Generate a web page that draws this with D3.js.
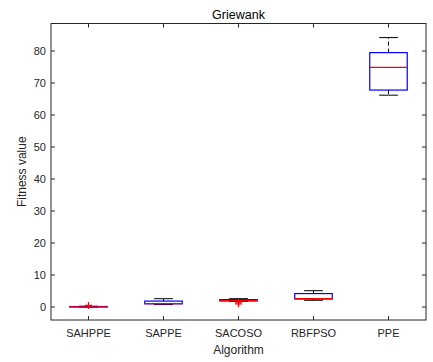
<!DOCTYPE html>
<html>
<head>
<meta charset="utf-8">
<script src="https://cdn.jsdelivr.net/npm/d3@7"></script>
<style>
  html, body { margin: 0; padding: 0; background: #fff; }
  svg { display: block; font-family: "Liberation Sans", Arial, Helvetica, sans-serif; }
</style>
</head>
<body>
<svg id="chart" width="433" height="362"></svg>
<script>
// Box plot statistics per algorithm
const algorithms = ["SAHPPE", "SAPPE", "SACOSO", "RBFPSO", "PPE"];
const lowerWhisker = [0.0, 0.75, 1.75, 2.1, 66.2];
const q1 = [0.03, 1.0, 1.9, 2.5, 67.8];
const median = [0.08, 1.05, 2.0, 2.6, 74.9];
const q3 = [0.15, 1.85, 2.3, 4.2, 79.5];
const upperWhisker = [0.25, 2.6, 2.6, 5.1, 84.2];
const outliers = [[0.5], [], [1.5, 1.0], [], []];
const yTicks = [0, 10, 20, 30, 40, 50, 60, 70, 80];

const svg = d3.select("#chart");
const plotLeft = 51, plotRight = 426, plotTop = 23.5, plotBottom = 320;
const axisColor = "#262626";

const x = d3.scaleLinear().domain([0.5, 5.5]).range([plotLeft, plotRight]);
const y = d3.scaleLinear().domain([-4.06, 88.6]).range([plotBottom, plotTop]);

const boxHalf = 0.25, capHalf = 0.125;

const data = algorithms.map((name, i) => ({
  name, i: i + 1,
  lo: lowerWhisker[i], q1: q1[i], med: median[i], q3: q3[i], hi: upperWhisker[i],
  out: outliers[i]
}));

const g = svg.append("g");

data.forEach(d => {
  // Whiskers (dashed) and caps
  g.append("line").attr("x1", x(d.i)).attr("x2", x(d.i))
    .attr("y1", y(d.q3)).attr("y2", y(d.hi))
    .attr("stroke", "#000").attr("stroke-dasharray", "4,3");
  g.append("line").attr("x1", x(d.i)).attr("x2", x(d.i))
    .attr("y1", y(d.q1)).attr("y2", y(d.lo))
    .attr("stroke", "#000").attr("stroke-dasharray", "4,3");
  g.append("line").attr("x1", x(d.i - capHalf)).attr("x2", x(d.i + capHalf))
    .attr("y1", y(d.hi)).attr("y2", y(d.hi)).attr("stroke", "#000");
  g.append("line").attr("x1", x(d.i - capHalf)).attr("x2", x(d.i + capHalf))
    .attr("y1", y(d.lo)).attr("y2", y(d.lo)).attr("stroke", "#000");
  // Box
  g.append("rect")
    .attr("x", x(d.i - boxHalf)).attr("width", x(d.i + boxHalf) - x(d.i - boxHalf))
    .attr("y", y(d.q3)).attr("height", Math.max(0.5, y(d.q1) - y(d.q3)))
    .attr("fill", "none").attr("stroke", "#0000ff").attr("stroke-width", 1.2);
  // Median
  g.append("line").attr("x1", x(d.i - boxHalf)).attr("x2", x(d.i + boxHalf))
    .attr("y1", y(d.med)).attr("y2", y(d.med)).attr("stroke", "#ff0000").attr("stroke-width", 1.2);
  // Outliers
  d.out.forEach(v => {
    const px = x(d.i), py = y(v), s = 3.5;
    g.append("path").attr("d", `M${px - s},${py}H${px + s}M${px},${py - s}V${py + s}`)
      .attr("stroke", "#ff0000").attr("stroke-width", 1.2);
  });
});

// Frame
svg.append("rect").attr("x", plotLeft).attr("y", plotTop)
  .attr("width", plotRight - plotLeft).attr("height", plotBottom - plotTop)
  .attr("fill", "none").attr("stroke", axisColor).attr("stroke-width", 1);

const tickLen = 4;
// Y ticks (inside, both sides) and labels
yTicks.forEach(t => {
  const py = y(t);
  svg.append("line").attr("x1", plotLeft).attr("x2", plotLeft + tickLen).attr("y1", py).attr("y2", py).attr("stroke", axisColor);
  svg.append("line").attr("x1", plotRight).attr("x2", plotRight - tickLen).attr("y1", py).attr("y2", py).attr("stroke", axisColor);
  svg.append("text").attr("x", plotLeft - 5).attr("y", py).attr("dy", "0.35em")
    .attr("text-anchor", "end").attr("font-size", 11).attr("fill", axisColor).text(t);
});

// X ticks (inside, top and bottom) and category labels
data.forEach(d => {
  const px = x(d.i);
  svg.append("line").attr("x1", px).attr("x2", px).attr("y1", plotBottom).attr("y2", plotBottom - tickLen).attr("stroke", axisColor);
  svg.append("line").attr("x1", px).attr("x2", px).attr("y1", plotTop).attr("y2", plotTop + tickLen).attr("stroke", axisColor);
  svg.append("text").attr("x", px).attr("y", plotBottom + 13.5).attr("dy", "0.35em")
    .attr("text-anchor", "middle").attr("font-size", 11).attr("fill", axisColor).text(d.name);
});

// Titles
svg.append("text").attr("x", (plotLeft + plotRight) / 2).attr("y", 15).attr("dy", "0.35em")
  .attr("text-anchor", "middle").attr("font-size", 12.5).attr("fill", "#000").text("Griewank");
svg.append("text").attr("x", (plotLeft + plotRight) / 2).attr("y", 350).attr("dy", "0.35em")
  .attr("text-anchor", "middle").attr("font-size", 12).attr("fill", axisColor).text("Algorithm");
svg.append("text").attr("transform", `translate(22,${(plotTop + plotBottom) / 2}) rotate(-90)`)
  .attr("text-anchor", "middle").attr("dy", "0.35em")
  .attr("font-size", 12).attr("fill", axisColor).text("Fitness value");
</script>
</body>
</html>
